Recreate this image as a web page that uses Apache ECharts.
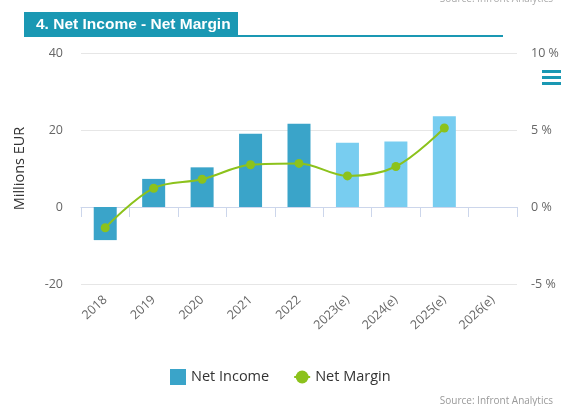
<!DOCTYPE html>
<html><head><meta charset="utf-8">
<script src="https://cdn.jsdelivr.net/npm/echarts@6/dist/echarts.min.js"></script>
<style>html,body{margin:0;padding:0;background:#fff;}#c{width:566px;height:406px;}</style>
</head><body><div id="c"></div>
<script>
var categories = ['2018','2019','2020','2021','2022','2023(e)','2024(e)','2025(e)','2026(e)'];
var netIncome = [-8.6, 7.3, 10.3, 19.0, 21.6, 16.7, 17.0, 23.6, null];
var netMargin = [-1.35, 1.22, 1.8, 2.74, 2.83, 2.02, 2.63, 5.13, null];
var estimated = [false, false, false, false, false, true, true, true, true];
var leftTicks = {min: -20, max: 40, interval: 20};
var rightTicks = {min: -5, max: 10, interval: 5};

var darkBlue = '#3aa4c9', lightBlue = '#78cdf0', green = '#8cc21c', teal = '#1a98b3';
var chart = echarts.init(document.getElementById('c'), null, {renderer: 'canvas'});
var font = 'Open Sans';
chart.setOption({
  animation: false,
  textStyle: {fontFamily: font},
  grid: {left: 81, right: 49, top: 53, bottom: 122, containLabel: false},
  graphic: [
    {type: 'rect', shape: {x: 24, y: 12, width: 214, height: 25}, style: {fill: teal}},
    {type: 'text', x: 36, y: 24.5, style: {text: '4. Net Income - Net Margin', fill: '#fff', font: 'bold 15.5px "Liberation Sans", Arial', textVerticalAlign: 'middle'}},
    {type: 'rect', shape: {x: 238, y: 35, width: 265, height: 2}, style: {fill: teal}},
    {type: 'rect', shape: {x: 542, y: 70, width: 19, height: 3}, style: {fill: teal}},
    {type: 'rect', shape: {x: 542, y: 76, width: 19, height: 3}, style: {fill: teal}},
    {type: 'rect', shape: {x: 542, y: 82, width: 19, height: 3}, style: {fill: teal}},
    {type: 'text', x: 553, y: 401, style: {text: 'Source: Infront Analytics', fill: '#999', font: '10px "Open Sans"', textAlign: 'right', textVerticalAlign: 'middle'}},
    {type: 'text', x: 553, y: -1, style: {text: 'Source: Infront Analytics', fill: '#aaa', font: '10px "Open Sans"', textAlign: 'right', textVerticalAlign: 'middle'}}
  ],
  legend: {
    left: 165, top: 364, itemGap: 24, itemWidth: 16, itemHeight: 16,
    textStyle: {fontSize: 14.5, color: '#333', fontFamily: font},
    data: [{name: 'Net Income', icon: 'rect'}, {name: 'Net Margin'}]
  },
  xAxis: {
    type: 'category', data: categories, boundaryGap: true,
    axisLine: {lineStyle: {color: '#ccd6eb'}},
    axisTick: {show: true, length: 10, alignWithLabel: false, lineStyle: {color: '#ccd6eb'}},
    axisLabel: {rotate: 43, margin: 14, color: '#666', fontSize: 12.5, interval: 0}
  },
  yAxis: [
    {type: 'value', min: leftTicks.min, max: leftTicks.max, interval: leftTicks.interval,
     name: 'Millions EUR', nameLocation: 'middle', nameGap: 54, nameRotate: 90,
     nameTextStyle: {fontSize: 14.5, color: '#333'},
     axisLine: {show: false}, axisTick: {show: false},
     axisLabel: {color: '#666', fontSize: 12.5, margin: 18},
     splitLine: {lineStyle: {color: '#e6e6e6'}}},
    {type: 'value', min: rightTicks.min, max: rightTicks.max, interval: rightTicks.interval,
     position: 'right', axisLine: {show: false}, axisTick: {show: false},
     axisLabel: {color: '#666', fontSize: 12.5, margin: 14, formatter: '{value} %'},
     splitLine: {show: false}}
  ],
  series: [
    {name: 'Net Income', type: 'bar', yAxisIndex: 0, barWidth: 23, color: darkBlue,
     data: netIncome.map(function (v, i) { return {value: v, itemStyle: {color: estimated[i] ? lightBlue : darkBlue}}; })},
    {name: 'Net Margin', type: 'line', yAxisIndex: 1, smooth: 0.35, color: green,
     symbol: 'circle', symbolSize: 9, lineStyle: {width: 2, color: green},
     itemStyle: {color: green}, data: netMargin}
  ]
});
</script></body></html>
